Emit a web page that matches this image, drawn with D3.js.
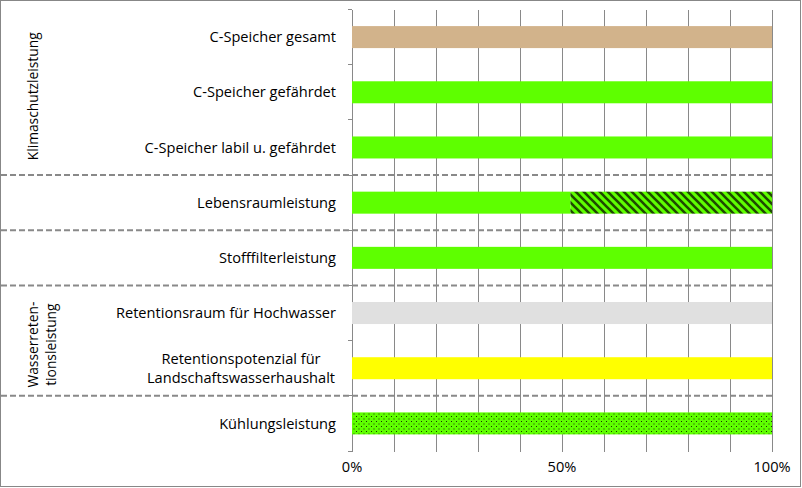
<!DOCTYPE html>
<html>
<head>
<meta charset="utf-8">
<script src="https://cdn.jsdelivr.net/npm/d3@7"></script>
<style>
html,body{margin:0;padding:0;background:#fff;}
svg{display:block;}
text{font-family:"Open Sans",Lato,sans-serif;fill:#000;}
</style>
</head>
<body>
<svg id="chart" width="802" height="488"></svg>
<script>
// ---- data ----
const categories = [
  ["C-Speicher gesamt"],
  ["C-Speicher gefährdet"],
  ["C-Speicher labil u. gefährdet"],
  ["Lebensraumleistung"],
  ["Stofffilterleistung"],
  ["Retentionsraum für Hochwasser"],
  ["Retentionspotenzial für", "Landschaftswasserhaushalt"],
  ["Kühlungsleistung"]
];
const solidValues   = [100, 100, 100, 52, 100, 100, 100, 100];
const hatchedValues = [0, 0, 0, 48, 0, 0, 0, 0];
const fillKinds     = ["tan", "green", "green", "green", "green", "grey", "yellow", "dotted"];
const groupLabels   = [["Klimaschutzleistung"], ["Wasserreten-", "tionsleistung"]];
const groupRanges   = [[0, 2], [5, 6]];
const separatorsAfter = [2, 3, 4, 6];
const xTicks = [0, 50, 100];
const gridValues = [0, 10, 20, 30, 40, 50, 60, 70, 80, 90, 100];

// ---- styles ----
const fills = {
  tan: "#D2B38B",
  green: "#5EFF00",
  grey: "#E0E0E0",
  yellow: "#FFFF00",
  dotted: "url(#dots)"
};

const svg = d3.select("#chart");
const W = 802, H = 488;
const margin = {left: 352, right: 30, top: 9.5, bottom: 37};
const FS = 14.6;

// patterns
const defs = svg.append("defs");
const hatch = defs.append("pattern").attr("id", "hatch")
  .attr("patternUnits", "userSpaceOnUse").attr("width", 8).attr("height", 8);
hatch.append("rect").attr("width", 8).attr("height", 8).attr("fill", "#5EFF00");
hatch.append("path").attr("d", "M-2,-2L10,10M-2,6L2,10M6,-2L10,2")
  .attr("stroke", "#1E4A00").attr("stroke-width", 2.6);

const dots = defs.append("pattern").attr("id", "dots")
  .attr("patternUnits", "userSpaceOnUse").attr("width", 5).attr("height", 5);
dots.append("rect").attr("width", 5).attr("height", 5).attr("fill", "#5EFF00");
dots.append("rect").attr("x", 1).attr("y", 1).attr("width", 1).attr("height", 1).attr("fill", "#1a3300");
dots.append("rect").attr("x", 3.5).attr("y", 3.5).attr("width", 1).attr("height", 1).attr("fill", "#1a3300");

// outer border
svg.append("rect").attr("x", 0.5).attr("y", 0.5).attr("width", W - 2).attr("height", H - 2)
  .attr("fill", "#fff").attr("stroke", "#878787");

const x = d3.scaleLinear().domain([0, 100]).range([margin.left, W - margin.right]);
const y = d3.scaleBand().domain(d3.range(categories.length))
  .range([margin.top, H - margin.bottom]);
const yStep = y.step();
const bandTop = i => y(i);

// gridlines
svg.append("g").selectAll("line").data(gridValues).join("line")
  .attr("x1", d => x(d)).attr("x2", d => x(d))
  .attr("y1", margin.top).attr("y2", H - margin.bottom + 1)
  .attr("stroke", "#898989").attr("stroke-width", 1)
  .attr("shape-rendering", "crispEdges");

// left axis ticks
svg.append("g").selectAll("line").data(d3.range(categories.length + 1)).join("line")
  .attr("x1", x(0) - 4).attr("x2", x(0))
  .attr("y1", i => margin.top + i * yStep).attr("y2", i => margin.top + i * yStep)
  .attr("stroke", "#898989").attr("shape-rendering", "crispEdges");

// bars
const barH = 22;
const bars = svg.append("g");
bars.selectAll("rect.solid").data(solidValues).join("rect").attr("class", "solid")
  .attr("x", x(0)).attr("width", d => x(d) - x(0))
  .attr("y", (d, i) => bandTop(i) + yStep / 2 - barH / 2).attr("height", barH)
  .attr("fill", (d, i) => fills[fillKinds[i]]);
bars.selectAll("rect.hatch").data(hatchedValues).join("rect").attr("class", "hatch")
  .attr("x", (d, i) => x(solidValues[i])).attr("width", d => x(d) - x(0))
  .attr("y", (d, i) => bandTop(i) + yStep / 2 - barH / 2).attr("height", barH)
  .attr("fill", "url(#hatch)");

// separators
svg.append("g").selectAll("line").data(separatorsAfter).join("line")
  .attr("x1", 1).attr("x2", x(100))
  .attr("y1", d => margin.top + (d + 1) * yStep).attr("y2", d => margin.top + (d + 1) * yStep)
  .attr("stroke", "#898989").attr("stroke-width", 2).attr("stroke-dasharray", "6,3");

// category labels
const labelG = svg.append("g");
categories.forEach((lines, i) => {
  const cy = bandTop(i) + yStep / 2;
  const t = labelG.append("text").attr("font-size", FS).attr("text-anchor", lines.length > 1 ? "middle" : "end");
  const lh = 19;
  const ax = lines.length > 1 ? 241 : 336;
  lines.forEach((l, k) => {
    t.append("tspan").attr("x", ax)
      .attr("y", cy + (k - (lines.length - 1) / 2) * lh)
      .attr("dy", "0.35em").text(l);
  });
});

// group labels (rotated)
groupLabels.forEach((lines, g) => {
  const [a, b] = groupRanges[g];
  const cy = margin.top + (a + b + 1) / 2 * yStep;
  const t = svg.append("text").attr("font-size", 13.8).attr("text-anchor", "middle")
    .attr("transform", `translate(${lines.length > 1 ? 42 : 33},${cy + 4}) rotate(-90)`);
  lines.forEach((l, k) => {
    t.append("tspan").attr("x", 0)
      .attr("y", (k - (lines.length - 1) / 2) * 18)
      .attr("dy", "0.35em").text(l);
  });
});

// x axis labels
svg.append("g").selectAll("text").data(xTicks).join("text")
  .attr("x", d => x(d)).attr("y", H - margin.bottom + 16).attr("dy", "0.35em")
  .attr("text-anchor", "middle").attr("font-size", FS)
  .text(d => d + "%");
</script>
</body>
</html>
